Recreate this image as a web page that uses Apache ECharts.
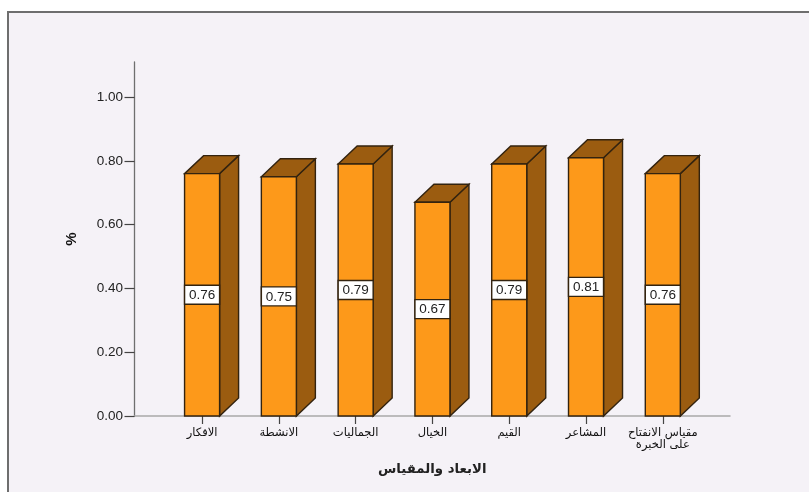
<!DOCTYPE html>
<html><head><meta charset="utf-8">
<style>html,body{margin:0;padding:0;background:#fff}#c{width:809px;height:492px}</style>
<script src="https://cdn.jsdelivr.net/npm/echarts@6/dist/echarts.min.js"></script>
</head><body><div id="c"></div>
<script>
const categories = ['الافكار','الانشطة','الجماليات','الخيال','القيم','المشاعر','مقياس الانفتاح\nعلى الخبرة'];
const values = [0.76,0.75,0.79,0.67,0.79,0.81,0.76];
const yTicks = [0,0.2,0.4,0.6,0.8,1.0];
const positions = categories.map((_, i) => i);

const chart = echarts.init(document.getElementById('c'), null, {renderer:'canvas'});
const DEPTH_X = 19, DEPTH_Y = 18, HALF = 0.228;
const edge = {stroke:'#33230f', lineWidth:1.4};

chart.setOption({
  animation:false,
  backgroundColor:'#ffffff',
  graphic:[{type:'rect', z:-10, silent:true,
    shape:{x:8,y:12,width:900,height:600},
    style:{fill:'#f5f2f7',stroke:'#6e6e6e',lineWidth:2}}],
  grid:{left:134.5,right:79,top:62,bottom:76,containLabel:false},
  xAxis:{
    type:'value', min:-0.88, max:6.875,
    name:'الابعاد والمقياس', nameLocation:'middle', nameGap:47.5,
    nameTextStyle:{fontFamily:'DejaVu Sans',fontSize:13.3,fontWeight:'bold',color:'#222'},
    splitLine:{show:false},
    axisLine:{onZero:false,lineStyle:{color:'#a9a9a9',width:1.5}},
    axisTick:{customValues:positions,length:8,lineStyle:{color:'#444',width:1.2}},
    axisLabel:{customValues:positions,margin:11,lineHeight:12,
      fontFamily:'DejaVu Sans',fontSize:11.5,color:'#111',verticalAlign:'top',
      formatter:v=>categories[Math.round(v)]}
  },
  yAxis:{
    type:'value', min:0, max:1.11,
    splitLine:{show:false},
    name:'%', nameLocation:'middle', nameGap:55, nameRotate:90,
    nameTextStyle:{fontFamily:'Liberation Sans',fontSize:15,fontWeight:'bold',color:'#111'},
    axisLine:{show:true,onZero:false,lineStyle:{color:'#6f6f6f',width:1.3}},
    axisTick:{show:true,customValues:yTicks,length:10,lineStyle:{color:'#444',width:1.2}},
    axisLabel:{show:true,customValues:yTicks,margin:11.5,
      fontFamily:'Liberation Sans',fontSize:13.5,color:'#222',
      formatter:v=>v.toFixed(2)}
  },
  series:[{
    type:'custom',
    clip:false,
    data:values.map((v,i)=>[i,v]),
    encode:{x:0,y:1},
    renderItem(params,api){
      const i=api.value(0), v=api.value(1);
      const [x0,yB]=api.coord([i-HALF,0]);
      const [x1,yT]=api.coord([i+HALF,v]);
      const yM=(yB+yT)/2, boxH=19;
      return {type:'group',children:[
        {type:'polygon',shape:{points:[[x1,yT],[x1+DEPTH_X,yT-DEPTH_Y],[x1+DEPTH_X,yB-DEPTH_Y],[x1,yB]]},
          style:{fill:'#9b5c10',...edge}},
        {type:'polygon',shape:{points:[[x0,yT],[x0+DEPTH_X,yT-DEPTH_Y],[x1+DEPTH_X,yT-DEPTH_Y],[x1,yT]]},
          style:{fill:'#9b5c10',...edge}},
        {type:'rect',shape:{x:x0,y:yT,width:x1-x0,height:yB-yT},
          style:{fill:'#fd991a',...edge}},
        {type:'rect',shape:{x:x0,y:yM-boxH/2,width:x1-x0,height:boxH},
          style:{fill:'#ffffff',...edge}},
        {type:'text',style:{x:(x0+x1)/2,y:yM+0.5,text:v.toFixed(2),align:'center',verticalAlign:'middle',
          fontFamily:'Liberation Sans',fontSize:13.5,fill:'#222'}}
      ]};
    }
  }]
});
</script></body></html>
